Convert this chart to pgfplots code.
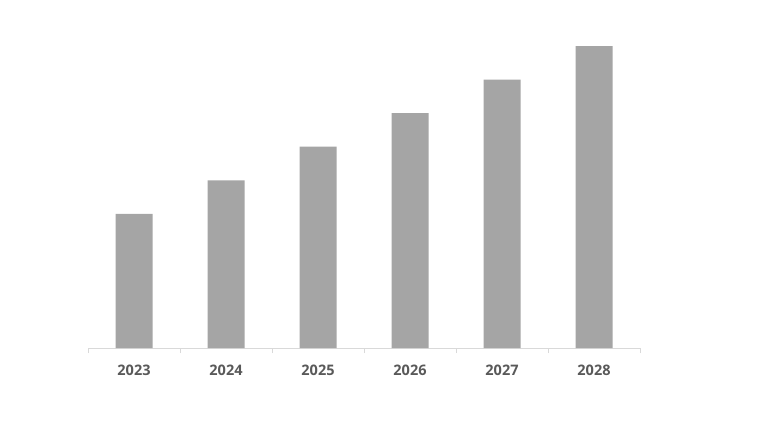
\documentclass[border=0pt]{standalone}
\usepackage{pgfplots}
\pgfplotsset{compat=1.18}
\usepackage{fontspec}
\setmainfont{Open Sans}
\definecolor{barc}{HTML}{A5A5A5}
\definecolor{axc}{HTML}{D9D9D9}
\definecolor{txt}{HTML}{595959}
\begin{document}
\begin{tikzpicture}[x=1pt,y=1pt]
\useasboundingbox (0,0) rectangle (768,421);
\begin{axis}[
  at={(88pt,73pt)}, anchor=south west,
  scale only axis, width=552pt, height=335.5pt,
  xmin=-0.5, xmax=5.5, ymin=0, ymax=10,
  axis x line*=bottom, axis y line=none,
  x axis line style={axc, line width=0.8pt, -},
  xtick={0,1,2,3,4,5},
  xticklabels={2023,2024,2025,2026,2027,2028},
  major tick length=0pt,
  extra x ticks={-0.5,0.5,1.5,2.5,3.5,4.5,5.5},
  extra x tick labels={},
  extra x tick style={major tick length=5pt, tick align=outside, tick style={axc, line width=0.8pt}},
  xticklabel style={font=\fontsize{14.5}{17}\selectfont\bfseries, text=txt, yshift=-13pt},
  ytick=\empty,
  clip=false,
]
\addplot[ybar, bar width=37pt, fill=barc, draw=none] coordinates {
  (0,4) (1,5) (2,6) (3,7) (4,8) (5,9)
};
\end{axis}
\end{tikzpicture}
\end{document}
